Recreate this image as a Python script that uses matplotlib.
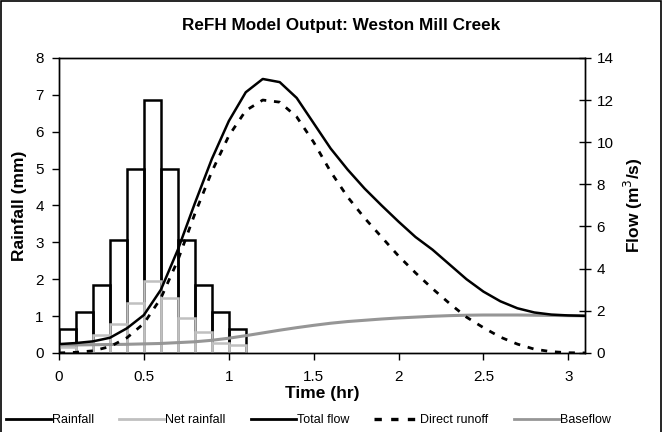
import matplotlib.pyplot as plt
from matplotlib.lines import Line2D
from matplotlib.patches import Rectangle

plt.rcParams['font.family'] = ['Liberation Sans', 'DejaVu Sans']

# rainfall blocks (0.1 hr each)
bar_start = [0.0, 0.1, 0.2, 0.3, 0.4, 0.5, 0.6, 0.7, 0.8, 0.9, 1.0]
rainfall = [0.65, 1.1, 1.85, 3.05, 5.0, 6.85, 5.0, 3.05, 1.85, 1.1, 0.65]
net_rainfall = [0.15, 0.27, 0.49, 0.79, 1.36, 1.96, 1.5, 0.95, 0.57, 0.27, 0.22]

# flow hydrograph
time = [0.0, 0.1, 0.2, 0.3, 0.4, 0.5, 0.6, 0.7, 0.8, 0.9, 1.0,
        1.1, 1.2, 1.3, 1.4, 1.5, 1.6, 1.7, 1.8, 1.9, 2.0,
        2.1, 2.2, 2.3, 2.4, 2.5, 2.6, 2.7, 2.8, 2.9, 3.0, 3.1]
total_flow = [0.42, 0.47, 0.55, 0.72, 1.17, 1.8, 3.0, 4.9, 7.1, 9.2, 11.0,
              12.37, 13.0, 12.85, 12.1, 10.9, 9.7, 8.7, 7.8, 7.0, 6.23,
              5.5, 4.9, 4.2, 3.5, 2.91, 2.45, 2.12, 1.92, 1.82, 1.78, 1.76]
direct_runoff = [0.0, 0.03, 0.1, 0.3, 0.72, 1.4, 2.6, 4.4, 6.6, 8.6, 10.3,
                 11.5, 12.0, 11.9, 11.2, 10.0, 8.6, 7.4, 6.4, 5.5, 4.6,
                 3.8, 3.05, 2.35, 1.7, 1.2, 0.75, 0.42, 0.18, 0.06, 0.01, 0.0]
baseflow = [0.38, 0.38, 0.39, 0.4, 0.41, 0.43, 0.45, 0.49, 0.53, 0.6, 0.7,
            0.82, 0.95, 1.08, 1.2, 1.31, 1.41, 1.49, 1.55, 1.61, 1.66,
            1.7, 1.74, 1.77, 1.79, 1.8, 1.8, 1.8, 1.79, 1.78, 1.77, 1.76]

fig = plt.figure(figsize=(6.67, 4.32), dpi=100)
ax = fig.add_axes([0.0885, 0.183, 0.789, 0.683])
ax2 = ax.twinx()

ax.bar(bar_start, rainfall, width=0.1, align='edge', fill=False,
       edgecolor='black', linewidth=1.8)
ax.bar(bar_start, net_rainfall, width=0.1, align='edge', fill=False,
       edgecolor='#c0c0c0', linewidth=1.8)

dash = (0, (2.2, 2.8))
ax2.plot(time, baseflow, color='#969696', linewidth=2.2)
ax2.plot(time, direct_runoff, color='black', linewidth=2, linestyle=dash)
ax2.plot(time, total_flow, color='black', linewidth=1.8)

ax.set_xlim(0, 3.1)
ax.set_ylim(0, 8)
ax2.set_ylim(0, 14)
ax.set_xticks([0, 0.5, 1, 1.5, 2, 2.5, 3])
ax.set_xticklabels(['0', '0.5', '1', '1.5', '2', '2.5', '3'])
ax.set_yticks(range(0, 9))
ax2.set_yticks(range(0, 15, 2))

ax.tick_params(axis='both', labelsize=11, length=5, width=1)
ax.tick_params(axis='x', pad=7)
ax.tick_params(axis='y', pad=6)
ax2.tick_params(axis='y', labelsize=11, direction='inout', length=8, width=1, pad=4)
for a in (ax, ax2):
    for s in a.spines.values():
        s.set_linewidth(1)

ax.set_xlabel('Time (hr)', fontsize=12.5, fontweight='bold', labelpad=2)
ax.set_ylabel('Rainfall (mm)', fontsize=12.5, fontweight='bold', labelpad=6)
ax2.set_ylabel('Flow (m$^3$/s)', fontsize=12.5, fontweight='bold', labelpad=6)
fig.text(0.511, 0.942, 'ReFH Model Output: Weston Mill Creek', fontsize=12.3,
         fontweight='bold', ha='center', va='center')

handles = [
    Line2D([], [], color='black', linewidth=2),
    Line2D([], [], color='#c0c0c0', linewidth=2),
    Line2D([], [], color='black', linewidth=2),
    Line2D([], [], color='black', linewidth=2.4, linestyle=dash),
    Line2D([], [], color='#969696', linewidth=2),
]
labels = ['Rainfall', 'Net rainfall', 'Total flow', 'Direct runoff', 'Baseflow']
fig.legend(handles, labels, loc='center', bbox_to_anchor=(0.462, 0.028),
           ncol=5, frameon=False, fontsize=9, handlelength=3.6,
           handletextpad=0.1, columnspacing=2.0, borderaxespad=0)

fig.add_artist(Rectangle((0.001, -0.01), 0.99, 1.008, transform=fig.transFigure,
                         fill=False, edgecolor='black', linewidth=1.2))

fig.savefig('out.png', dpi=100)
